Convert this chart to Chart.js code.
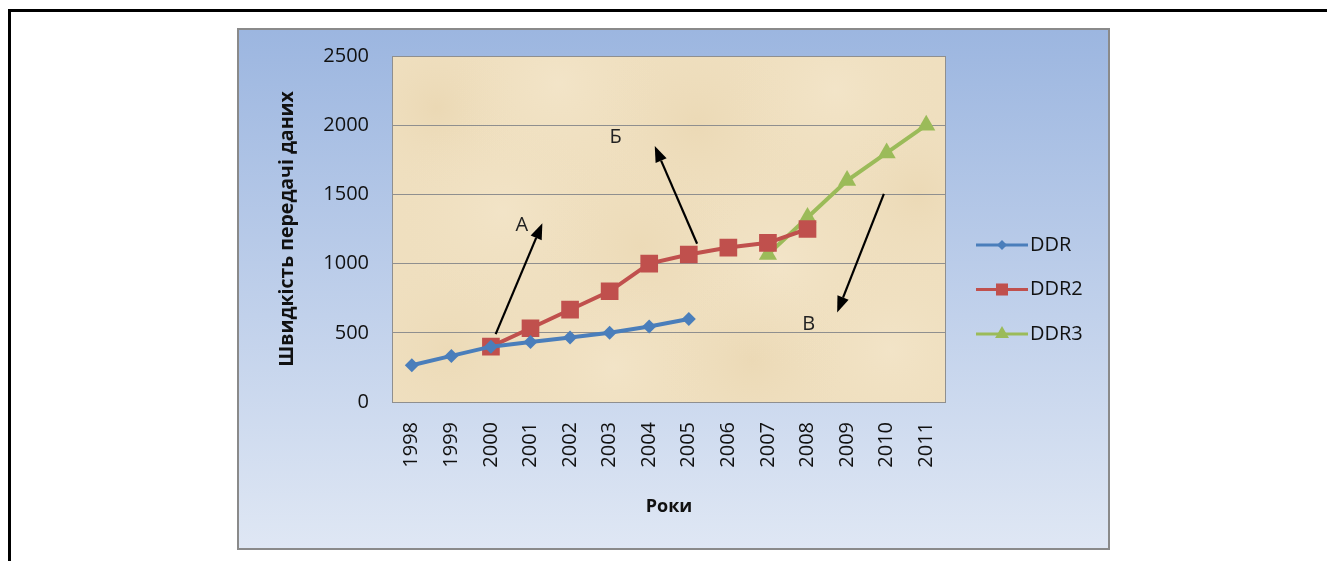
<!DOCTYPE html>
<html>
<head>
<meta charset="utf-8">
<title>DDR</title>
<script src="https://cdn.jsdelivr.net/npm/chart.js@4.4.0/dist/chart.umd.min.js"></script>
<style>
    body { margin: 0; background: #fff; width: 1327px; height: 561px; overflow: hidden; position: relative; }
    #frame { position: absolute; left: 8px; top: 9px; width: 1340px; height: 560px; border-top: 3px solid #000; border-left: 3px solid #000; }
    #box { position: absolute; left: 237px; top: 28px; width: 873px; height: 522px; box-sizing: border-box;
           border: 2px solid #8a8a8a; background: linear-gradient(#9cb6e0, #dfe7f4); }
    #speedChart { display: block; }
</style>
</head>
<body>
<div id="frame"></div>
<div id="box"><canvas id="speedChart" width="869" height="518"></canvas></div>
<script>
const years = ['1998', '1999', '2000', '2001', '2002', '2003', '2004', '2005', '2006', '2007', '2008', '2009', '2010', '2011'];
const ddr  = [266, 333, 400, 433, 466, 500, 546, 600, null, null, null, null, null, null];
const ddr2 = [null, null, 400, 533, 667, 800, 1000, 1066, 1116, 1150, 1250, null, null, null];
const ddr3 = [null, null, null, null, null, null, null, null, null, 1066, 1333, 1600, 1800, 2000];

// arrows: [category index, value] for tail and head, plus letter placement
const arrowNames = ['А', 'Б', 'В'];
const arrowFrom  = [[2.12, 490], [7.21, 1143], [11.93, 1504]];
const arrowTo    = [[3.30, 1292], [6.14, 1850], [10.75, 647]];
const letterAt   = [[2.78, 1280], [5.15, 1909], [10.03, 565]];

const FONT = "'Open Sans', 'Liberation Sans', sans-serif";

// mottled parchment inside the plot area
const blotches = [
    [0.08, 0.15, 0.16, 'rgba(214,182,125,0.16)'], [0.30, 0.08, 0.20, 'rgba(250,240,220,0.30)'],
    [0.55, 0.20, 0.20, 'rgba(214,182,125,0.14)'], [0.80, 0.10, 0.20, 'rgba(250,240,220,0.30)'],
    [0.95, 0.40, 0.16, 'rgba(214,182,125,0.14)'], [0.20, 0.45, 0.20, 'rgba(250,240,220,0.28)'],
    [0.45, 0.55, 0.20, 'rgba(220,190,135,0.14)'], [0.70, 0.60, 0.20, 'rgba(250,240,220,0.30)'],
    [0.10, 0.85, 0.18, 'rgba(220,190,135,0.14)'], [0.40, 0.90, 0.18, 'rgba(250,240,220,0.28)'],
    [0.65, 0.88, 0.18, 'rgba(214,182,125,0.14)'], [0.90, 0.85, 0.18, 'rgba(250,240,220,0.28)']
];

const plotBackground = {
    id: 'plotBackground',
    beforeDraw(chart) {
        const {ctx, chartArea: a} = chart;
        const w = a.right - a.left, h = a.bottom - a.top;
        ctx.save();
        ctx.beginPath();
        ctx.rect(a.left, a.top, w, h);
        ctx.clip();
        ctx.fillStyle = '#efdfbf';
        ctx.fillRect(a.left, a.top, w, h);
        blotches.forEach(([fx, fy, fr, col]) => {
            const x = a.left + fx * w, y = a.top + fy * h, r = fr * w;
            const g = ctx.createRadialGradient(x, y, 0, x, y, r);
            g.addColorStop(0, col);
            g.addColorStop(1, 'rgba(240,224,192,0)');
            ctx.fillStyle = g;
            ctx.fillRect(a.left, a.top, w, h);
        });
        ctx.restore();
    },
    beforeDatasetsDraw(chart) {
        const {ctx, chartArea: a} = chart;
        ctx.save();
        ctx.strokeStyle = '#8f8f8f';
        ctx.lineWidth = 1;
        ctx.strokeRect(a.left + 0.5, a.top + 0.5, a.right - a.left - 1, a.bottom - a.top);
        ctx.restore();
    }
};

const arrows = {
    id: 'arrows',
    afterDatasetsDraw(chart) {
        const {ctx, scales: {x, y}} = chart;
        ctx.save();
        ctx.lineWidth = 2.2;
        arrowNames.forEach((name, i) => {
            const x1 = x.getPixelForValue(arrowFrom[i][0]), y1 = y.getPixelForValue(arrowFrom[i][1]);
            const x2 = x.getPixelForValue(arrowTo[i][0]), y2 = y.getPixelForValue(arrowTo[i][1]);
            const ang = Math.atan2(y2 - y1, x2 - x1);
            const len = 16, half = 6;
            const bx = x2 - len * Math.cos(ang), by = y2 - len * Math.sin(ang);
            ctx.strokeStyle = '#000';
            ctx.fillStyle = '#000';
            ctx.beginPath();
            ctx.moveTo(x1, y1);
            ctx.lineTo(bx, by);
            ctx.stroke();
            ctx.beginPath();
            ctx.moveTo(x2, y2);
            ctx.lineTo(bx + half * Math.sin(ang), by - half * Math.cos(ang));
            ctx.lineTo(bx - half * Math.sin(ang), by + half * Math.cos(ang));
            ctx.closePath();
            ctx.fill();

            ctx.font = '20px ' + FONT;
            ctx.fillStyle = '#222';
            ctx.textAlign = 'center';
            ctx.textBaseline = 'middle';
            ctx.fillText(name, x.getPixelForValue(letterAt[i][0]), y.getPixelForValue(letterAt[i][1]));
        });
        ctx.restore();
    }
};

// legend on the right: short line with the series marker, then the name
const sideLegend = {
    id: 'sideLegend',
    afterDraw(chart) {
        const {ctx, chartArea: a} = chart;
        const x0 = a.right + 30, lineLen = 52, rowGap = 44.5;
        const yStart = 215;
        const legendRadius = [5, 8.5, 8];
        ctx.save();
        chart.data.datasets.forEach((ds, i) => {
            const yy = yStart + i * rowGap;
            ctx.strokeStyle = ds.borderColor;
            ctx.fillStyle = ds.borderColor;
            ctx.lineWidth = 3;
            ctx.beginPath();
            ctx.moveTo(x0, yy);
            ctx.lineTo(x0 + lineLen, yy);
            ctx.stroke();
            Chart.helpers.drawPoint(ctx, {pointStyle: ds.pointStyle, radius: legendRadius[i], rotation: 0, borderWidth: 0}, x0 + lineLen / 2, yy);
            ctx.fillStyle = '#111';
            ctx.font = '20px ' + FONT;
            ctx.textAlign = 'left';
            ctx.textBaseline = 'middle';
            ctx.fillText(ds.label, x0 + lineLen + 2, yy);
        });
        ctx.restore();
    }
};

function series(label, values, color, style, radius) {
    return {
        label: label,
        data: values,
        borderColor: color,
        backgroundColor: color,
        borderWidth: 4,
        pointStyle: style,
        pointRadius: radius,
        pointHoverRadius: radius,
        pointBorderWidth: 0,
        spanGaps: false,
        tension: 0
    };
}

new Chart(document.getElementById('speedChart'), {
    type: 'line',
    data: {
        labels: years,
        datasets: [
            series('DDR', ddr, '#4a7ebb', 'rectRot', 7),
            series('DDR2', ddr2, '#c0504d', 'rect', 12.5),
            series('DDR3', ddr3, '#9bbb59', 'triangle', 10.5)
        ]
    },
    options: {
        responsive: false,
        animation: false,
        layout: { padding: { top: 26, right: 162, left: 0, bottom: 0 } },
        plugins: {
            legend: { display: false },
            tooltip: { enabled: false }
        },
        scales: {
            x: {
                offset: true,
                afterFit(scale) { scale.height = 146; scale.paddingTop = 0; scale.paddingBottom = 0; },
                grid: { display: false, drawTicks: false },
                border: { display: false },
                ticks: { color: '#111', font: { family: FONT, size: 20 }, minRotation: 90, maxRotation: 90, padding: 20 },
                title: { display: true, text: 'Роки', color: '#111', font: { family: FONT, size: 18, weight: 'bold' }, padding: { top: 0, bottom: 30 } }
            },
            y: {
                min: 0,
                max: 2500,
                afterFit(scale) { scale.width = 153; scale.paddingTop = 0; scale.paddingBottom = 0; },
                grid: { color: '#8f8f8f', drawTicks: false },
                border: { display: false },
                ticks: { stepSize: 500, color: '#111', font: { family: FONT, size: 20 }, padding: 23,
                         callback: (v) => String(v) },
                title: { display: true, text: 'Швидкість передачі даних', color: '#111', font: { family: FONT, size: 19.5, weight: 'bold' }, padding: { top: 37, bottom: 0 } }
            }
        }
    },
    plugins: [plotBackground, arrows, sideLegend]
});
</script>
</body>
</html>
